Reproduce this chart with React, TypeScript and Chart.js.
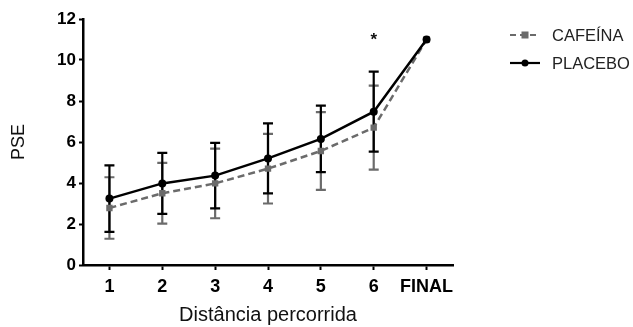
import React, { useEffect, useRef } from "react";
import { Chart, registerables } from "chart.js";

Chart.register(...registerables);

const categories = ["1", "2", "3", "4", "5", "6", "FINAL"];
const cafeinaMean = [2.78, 3.5, 3.98, 4.7, 5.56, 6.7, 11];
const cafeinaSD = [1.5, 1.48, 1.7, 1.7, 1.9, 2.05, 0];
const placeboMean = [3.24, 3.98, 4.36, 5.2, 6.15, 7.48, 11];
const placeboSD = [1.62, 1.49, 1.6, 1.71, 1.62, 1.95, 0];
const seriesNames = ["CAFEÍNA", "PLACEBO"];
const markIndex = 5;
const markValue = 11.1;

const FONT = "'Liberation Sans', Arial, sans-serif";
const GREY = "#6b6b6b";
const BLACK = "#000000";

const errorBarPlugin = {
  id: "errorBars",
  beforeDatasetsDraw(chart: any) {
    const ctx = chart.ctx;
    const xS = chart.scales.x;
    const yS = chart.scales.y;
    const sets = [
      { m: cafeinaMean, s: cafeinaSD, c: GREY },
      { m: placeboMean, s: placeboSD, c: BLACK },
    ];
    ctx.save();
    sets.forEach((set) => {
      ctx.strokeStyle = set.c;
      ctx.lineWidth = 2.2;
      set.m.forEach((v, i) => {
        if (!set.s[i]) return;
        const x = xS.getPixelForValue(i);
        const yt = yS.getPixelForValue(v + set.s[i]);
        const yb = yS.getPixelForValue(v - set.s[i]);
        ctx.beginPath();
        ctx.moveTo(x, yt);
        ctx.lineTo(x, yb);
        ctx.moveTo(x - 5, yt);
        ctx.lineTo(x + 5, yt);
        ctx.moveTo(x - 5, yb);
        ctx.lineTo(x + 5, yb);
        ctx.stroke();
      });
    });
    ctx.restore();
  },
  afterDraw(chart: any) {
    const ctx = chart.ctx;
    const xS = chart.scales.x;
    const yS = chart.scales.y;
    ctx.save();
    ctx.fillStyle = "#111";
    ctx.font = `bold 17px ${FONT}`;
    ctx.textAlign = "center";
    ctx.textBaseline = "middle";
    ctx.fillText("*", xS.getPixelForValue(markIndex), yS.getPixelForValue(markValue) + 3);
    const lx = 510;
    const items = [
      { name: seriesNames[0], c: GREY, dash: [6, 4], square: true, y: 35 },
      { name: seriesNames[1], c: BLACK, dash: [], square: false, y: 63 },
    ];
    items.forEach((it) => {
      ctx.strokeStyle = it.c;
      ctx.fillStyle = it.c;
      ctx.lineWidth = 2.2;
      ctx.setLineDash(it.dash);
      ctx.beginPath();
      ctx.moveTo(lx, it.y);
      ctx.lineTo(lx + 30, it.y);
      ctx.stroke();
      ctx.setLineDash([]);
      if (it.square) {
        ctx.fillRect(lx + 15 - 3.5, it.y - 3.5, 7, 7);
      } else {
        ctx.beginPath();
        ctx.arc(lx + 15, it.y, 3.5, 0, Math.PI * 2);
        ctx.fill();
      }
      ctx.fillStyle = "#222";
      ctx.font = `16.5px ${FONT}`;
      ctx.textAlign = "left";
      ctx.textBaseline = "middle";
      ctx.fillText(it.name, 552, it.y + 1);
    });
    ctx.restore();
  },
};

export default function App() {
  const ref = useRef<HTMLCanvasElement>(null);
  useEffect(() => {
    document.body.style.margin = "0";
    const chart = new Chart(ref.current!, {
      type: "line",
      data: {
        labels: categories,
        datasets: [
          {
            label: seriesNames[0],
            data: cafeinaMean,
            borderColor: GREY,
            backgroundColor: GREY,
            borderWidth: 2.5,
            borderDash: [7, 4],
            pointStyle: "rect",
            pointRadius: 4.5,
            pointBorderWidth: 0,
            tension: 0,
            order: 2,
          },
          {
            label: seriesNames[1],
            data: placeboMean,
            borderColor: BLACK,
            backgroundColor: BLACK,
            borderWidth: 2.5,
            pointStyle: "circle",
            pointRadius: 4,
            pointBorderWidth: 0,
            tension: 0,
            order: 1,
          },
        ],
      },
      options: {
        animation: false,
        responsive: false,
        layout: { padding: { top: 19, right: 180, left: 0, bottom: 0 } },
        plugins: { legend: { display: false }, tooltip: { enabled: false } },
        scales: {
          x: {
            type: "category",
            offset: true,
            grid: {
              display: true,
              drawOnChartArea: false,
              drawTicks: true,
              tickLength: 5,
              tickWidth: 2,
              color: BLACK,
              offset: false,
            },
            border: { display: true, color: BLACK, width: 2.5 },
            ticks: {
              color: BLACK,
              font: { family: FONT, size: 18, weight: "bold" },
              padding: 6,
              maxRotation: 0,
              autoSkip: false,
            },
            title: {
              display: true,
              text: "Distância percorrida",
              color: "#111",
              font: { family: FONT, size: 20 },
              padding: { top: 0, bottom: 0 },
            },
            afterFit: (s: any) => {
              s.height = 62;
            },
          },
          y: {
            min: 0,
            max: 12,
            grid: {
              display: true,
              drawOnChartArea: false,
              drawTicks: true,
              tickLength: 4,
              tickWidth: 2,
              color: BLACK,
            },
            border: { display: true, color: BLACK, width: 2.5 },
            ticks: {
              stepSize: 1,
              color: BLACK,
              font: { family: FONT, size: 17, weight: "bold" },
              padding: 3,
              callback: (v: any) => (Number(v) % 2 === 0 ? String(v) : ""),
            },
            title: {
              display: true,
              text: "PSE",
              color: "#111",
              font: { family: FONT, size: 18 },
              padding: { top: 8, bottom: 0 },
            },
            afterFit: (s: any) => {
              s.width = 83;
            },
          },
        },
      },
      plugins: [errorBarPlugin],
    });
    return () => chart.destroy();
  }, []);
  return (
    <div style={{ width: 633, height: 327 }}>
      <canvas ref={ref} width={633} height={327} style={{ display: "block" }} />
    </div>
  );
}
